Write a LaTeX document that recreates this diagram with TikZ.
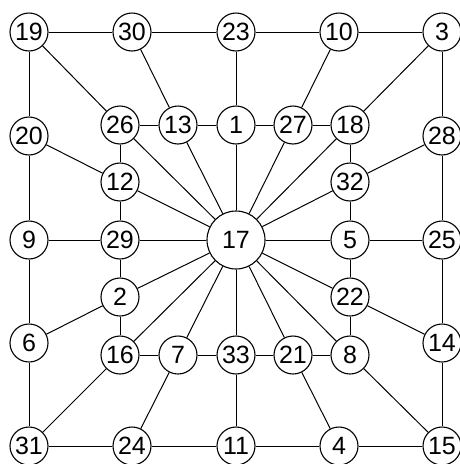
\documentclass[tikz,border=0pt]{standalone}
\usepackage{fontspec}
\setmainfont{Liberation Sans}
\begin{document}
\begin{tikzpicture}[x=1pt,y=-1pt,
  vtx/.style={circle,draw,line width=1.1pt,minimum size=38pt,inner sep=0pt,font=\fontsize{25}{25}\selectfont,fill=white},
  hub/.style={vtx,minimum size=58pt},
  edge/.style={line width=1pt}]
\useasboundingbox (0,0) rectangle (460,464);
\node[vtx] (n19) at (29,32) {19};
\node[vtx] (n30) at (132,32) {30};
\node[vtx] (n23) at (236,32) {23};
\node[vtx] (n10) at (339,32) {10};
\node[vtx] (n3) at (442,32) {3};
\node[vtx] (n20) at (29,136) {20};
\node[vtx] (n28) at (442,136) {28};
\node[vtx] (n26) at (120,125) {26};
\node[vtx] (n13) at (178,125) {13};
\node[vtx] (n1) at (236,125) {1};
\node[vtx] (n27) at (293,125) {27};
\node[vtx] (n18) at (350,125) {18};
\node[vtx] (n12) at (120,182) {12};
\node[vtx] (n32) at (350,182) {32};
\node[vtx] (n9) at (29,240) {9};
\node[vtx] (n29) at (120,240) {29};
\node[hub] (n17) at (236,240) {17};
\node[vtx] (n5) at (350,240) {5};
\node[vtx] (n25) at (442,240) {25};
\node[vtx] (n2) at (120,297) {2};
\node[vtx] (n22) at (350,297) {22};
\node[vtx] (n6) at (29,343) {6};
\node[vtx] (n14) at (442,343) {14};
\node[vtx] (n16) at (120,355) {16};
\node[vtx] (n7) at (178,355) {7};
\node[vtx] (n33) at (236,355) {33};
\node[vtx] (n21) at (293,355) {21};
\node[vtx] (n8) at (350,355) {8};
\node[vtx] (n31) at (29,446) {31};
\node[vtx] (n24) at (132,446) {24};
\node[vtx] (n11) at (236,446) {11};
\node[vtx] (n4) at (339,446) {4};
\node[vtx] (n15) at (442,446) {15};
\foreach \a/\b in {n19/n30,n30/n23,n23/n10,n10/n3,
  n19/n20,n20/n9,n9/n6,n6/n31,
  n3/n28,n28/n25,n25/n14,n14/n15,
  n31/n24,n24/n11,n11/n4,n4/n15,
  n19/n26,n30/n13,n23/n1,n10/n27,n3/n18,
  n26/n13,n13/n1,n1/n27,n27/n18,
  n20/n12,n9/n29,n6/n2,n31/n16,
  n26/n12,n12/n29,n29/n2,n2/n16,
  n28/n32,n25/n5,n14/n22,n15/n8,
  n18/n32,n32/n5,n5/n22,n22/n8,
  n16/n7,n7/n33,n33/n21,n21/n8,
  n24/n7,n11/n33,n4/n21,
  n17/n26,n17/n13,n17/n1,n17/n27,n17/n18,n17/n12,n17/n32,n17/n29,
  n17/n5,n17/n2,n17/n22,n17/n16,n17/n7,n17/n33,n17/n21,n17/n8}
  \draw[edge] (\a) -- (\b);
\end{tikzpicture}
\end{document}
